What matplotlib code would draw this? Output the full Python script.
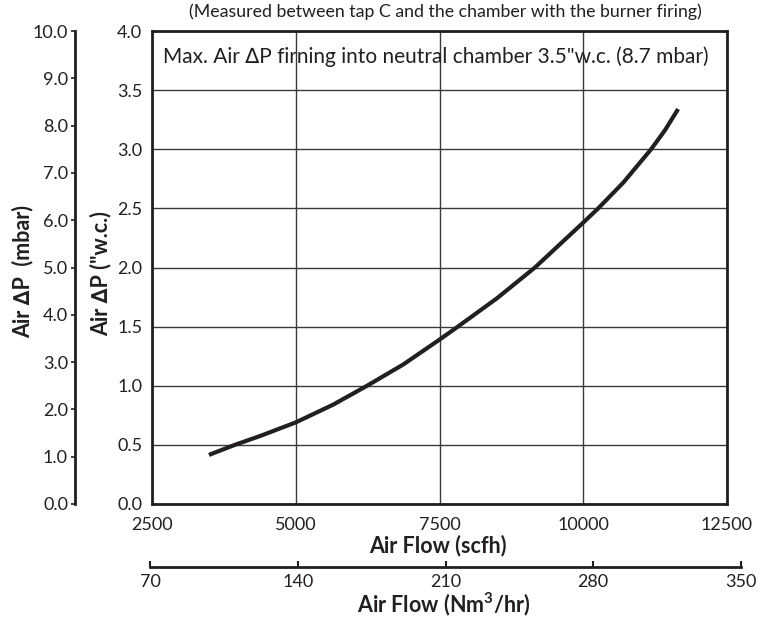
import matplotlib
matplotlib.use("Agg")
import matplotlib.pyplot as plt
from matplotlib.ticker import FixedLocator, FormatStrFormatter

plt.rcParams['font.family'] = ['Lato', 'DejaVu Sans']
plt.rcParams['font.size'] = 13
plt.rcParams['mathtext.fontset'] = 'custom'
plt.rcParams['mathtext.rm'] = 'Lato'
plt.rcParams['mathtext.bf'] = 'Lato:bold'

# air flow vs. pressure drop curve
flow_scfh = [3490, 3940, 4380, 5000, 5650, 6240, 6870, 7500, 7820, 8500,
             9160, 10000, 10260, 10700, 11180, 11420, 11650]
dp_wc = [0.415, 0.50, 0.575, 0.69, 0.84, 1.00, 1.18, 1.39, 1.50, 1.74,
         2.00, 2.38, 2.50, 2.72, 3.00, 3.16, 3.34]

x_ticks = [2500, 5000, 7500, 10000, 12500]
y_ticks = [0.0, 0.5, 1.0, 1.5, 2.0, 2.5, 3.0, 3.5, 4.0]
mbar_ticks = [0, 1, 2, 3, 4, 5, 6, 7, 8, 9, 10]
nm3_ticks = [70, 140, 210, 280, 350]

ink = '#231f20'

W, H = 771, 617
fig = plt.figure(figsize=(W / 100, H / 100), dpi=100)

# main plot area
ax = fig.add_axes([152 / W, (H - 504) / H, 575 / W, 473 / H])
ax.plot(flow_scfh, dp_wc, color=ink, lw=3.0, solid_capstyle='butt',
        solid_joinstyle='round')
ax.set_xlim(2500, 12500)
ax.set_ylim(0, 4)
ax.set_xticks(x_ticks)
ax.set_yticks(y_ticks)
ax.yaxis.set_major_formatter(FormatStrFormatter('%.1f'))
ax.tick_params(length=0, labelsize=13, colors=ink)
ax.tick_params(axis='y', pad=7)
ax.tick_params(axis='x', pad=9)
ax.grid(True, color='#3a3a3a', lw=1.0)
for s in ax.spines.values():
    s.set_linewidth(2.0)
    s.set_color(ink)

ax.text(0.019, 0.945, 'Max. Air \u2206P firning into neutral chamber 3.5"w.c. (8.7 mbar)',
        transform=ax.transAxes, ha='left', va='center', fontsize=15, color=ink)

# mbar scale on the far left
sec = ax.secondary_yaxis(-0.134, functions=(lambda y: y * 2.5, lambda m: m / 2.5))
sec.yaxis.set_major_locator(FixedLocator(mbar_ticks))
sec.yaxis.set_major_formatter(FormatStrFormatter('%.1f'))
sec.tick_params(length=3, width=1.2, pad=2, labelsize=13, colors=ink)
sec.spines['left'].set_linewidth(2.0)
sec.spines['left'].set_color(ink)

# Nm3/hr scale below the plot
bx = fig.add_axes([150 / W, (H - 567) / H, 591 / W, 0.0001])
bx.set_xlim(70, 350)
bx.set_xticks(nm3_ticks)
bx.set_yticks([])
for k in ('top', 'left', 'right'):
    bx.spines[k].set_visible(False)
bx.spines['bottom'].set_linewidth(2.0)
bx.spines['bottom'].set_color(ink)
bx.tick_params(axis='x', direction='in', length=4, width=1.5, pad=5,
               labelsize=13, colors=ink)

# titles and axis labels
fig.text(445 / W, 1 - 12 / H,
         '(Measured between tap C and the chamber with the burner firing)',
         ha='center', va='center', fontsize=12.8, color=ink)
fig.text(438 / W, 1 - 546 / H, 'Air Flow (scfh)', ha='center', va='center',
         fontsize=15.5, fontweight='bold', color=ink)
fig.text(444 / W, 1 - 604 / H, r'Air Flow (Nm$^{\mathbf{3}}$/hr)', ha='center',
         va='center', fontsize=15.5, fontweight='bold', color=ink)
fig.text(101 / W, 1 - 274 / H, 'Air \u2206P ("w.c.)', rotation=90, ha='center',
         va='center', fontsize=15.5, fontweight='bold', color=ink)
fig.text(23 / W, 1 - 271 / H, 'Air \u2206P  (mbar)', rotation=90, ha='center',
         va='center', fontsize=15.5, fontweight='bold', color=ink)

fig.savefig('out.png', dpi=100)
